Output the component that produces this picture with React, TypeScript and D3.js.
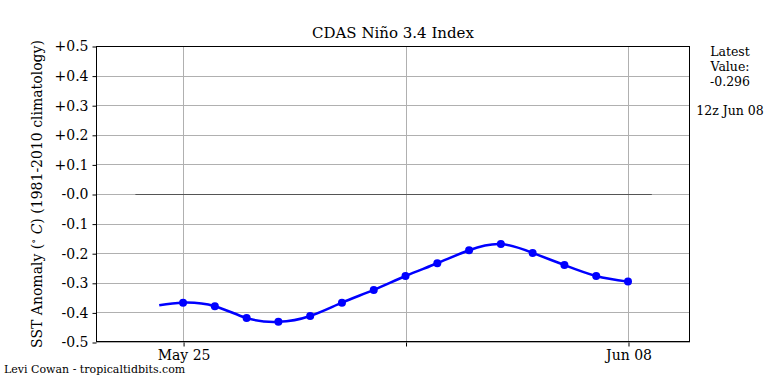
import * as d3 from 'd3';
import { useEffect, useRef } from 'react';

// daily values, 12z, May 25 .. Jun 08
const days = ['2024-05-25', '2024-05-26', '2024-05-27', '2024-05-28', '2024-05-29', '2024-05-30', '2024-05-31',
  '2024-06-01', '2024-06-02', '2024-06-03', '2024-06-04', '2024-06-05', '2024-06-06', '2024-06-07', '2024-06-08'];
const anomaly = [-0.367, -0.379, -0.419, -0.432, -0.412, -0.367, -0.324, -0.277, -0.234, -0.190, -0.169, -0.199, -0.240, -0.277, -0.296];
// curve starts a bit before the first marker
const leadIn = { date: '2024-05-24T06:00:00Z', value: -0.376 };
const yTicks = [0.5, 0.4, 0.3, 0.2, 0.1, 0, -0.1, -0.2, -0.3, -0.4, -0.5];
const xTicks = ['2024-05-25', '2024-06-01', '2024-06-08'];
const xTickLabels = ['May 25', '', 'Jun 08'];
const latest = '-0.296';
const latestTime = '12z Jun 08';

const FONT = 'DejaVu Serif';

const App = () => {
  const ref = useRef<SVGSVGElement>(null);

  useEffect(() => {
    const svg = d3.select(ref.current);
    svg.selectAll('*').remove();

    const width = 768;
    const height = 384;
    const margin = { top: 46, right: 78, bottom: 42, left: 96 };

    const parse = (s: string) => new Date(s.length === 10 ? s + 'T00:00:00Z' : s);

    const x = d3.scaleUtc()
      .domain([parse('2024-05-22T06:15:00Z'), parse('2024-06-09T22:50:00Z')])
      .range([margin.left, width - margin.right]);
    const y = d3.scaleLinear().domain([-0.5, 0.5]).range([height - margin.bottom, margin.top]);

    svg.attr('width', width).attr('height', height).style('font-family', FONT);
    svg.append('rect').attr('width', width).attr('height', height).attr('fill', 'white');

    // grid
    const grid = svg.append('g').attr('stroke', '#b0b0b0').attr('stroke-width', 1);
    yTicks.forEach(t => {
      grid.append('line')
        .attr('x1', margin.left).attr('x2', width - margin.right)
        .attr('y1', Math.round(y(t)) + 0.5).attr('y2', Math.round(y(t)) + 0.5);
    });
    xTicks.forEach(t => {
      const px = Math.round(x(parse(t))) + 0.5;
      grid.append('line')
        .attr('x1', px).attr('x2', px)
        .attr('y1', margin.top).attr('y2', height - margin.bottom);
    });

    // zero line
    svg.append('line')
      .attr('x1', x(parse('2024-05-23T12:00:00Z'))).attr('x2', x(parse('2024-06-08T18:00:00Z')))
      .attr('y1', Math.round(y(0)) + 0.5).attr('y2', Math.round(y(0)) + 0.5)
      .attr('stroke', '#555').attr('stroke-width', 1);

    // data line
    const pts = [{ date: parse(leadIn.date), value: leadIn.value }]
      .concat(days.map((d, i) => ({ date: parse(d), value: anomaly[i] })));
    const line = d3.line<{ date: Date; value: number }>()
      .x(d => x(d.date)).y(d => y(d.value))
      .curve(d3.curveNatural);
    svg.append('path')
      .datum(pts)
      .attr('d', line)
      .attr('fill', 'none')
      .attr('stroke', '#0000ff')
      .attr('stroke-width', 2.5);

    svg.append('g')
      .selectAll('circle')
      .data(days)
      .enter()
      .append('circle')
      .attr('cx', d => x(parse(d)))
      .attr('cy', (d, i) => y(anomaly[i]))
      .attr('r', 4)
      .attr('fill', '#0000ff');

    // frame
    svg.append('rect')
      .attr('x', margin.left + 0.5).attr('y', margin.top + 0.5)
      .attr('width', width - margin.right - margin.left - 1)
      .attr('height', height - margin.bottom - margin.top - 1)
      .attr('fill', 'none').attr('stroke', 'black').attr('stroke-width', 1);

    const fmt = (v: number) => (v > 0.0001 ? '+' : '-') + Math.abs(v).toFixed(1);

    // y axis
    const yAxis = svg.append('g')
      .attr('transform', `translate(${margin.left + 0.5},0.5)`)
      .call(d3.axisLeft(y).tickValues(yTicks).tickSize(4).tickPadding(4)
        .tickFormat(d => fmt(+d)));
    yAxis.select('.domain').remove();
    yAxis.selectAll('text').style('font-size', '14px').style('font-family', FONT).attr('fill', 'black');

    // x axis
    const xAxis = svg.append('g')
      .attr('transform', `translate(0.5,${height - margin.bottom + 0.5})`)
      .call(d3.axisBottom(x).tickValues(xTicks.map(parse)).tickSize(4).tickPadding(4)
        .tickFormat((d, i) => xTickLabels[i]));
    xAxis.select('.domain').remove();
    xAxis.selectAll('text').style('font-size', '14px').style('font-family', FONT).attr('fill', 'black');

    // title
    svg.append('text')
      .attr('x', (margin.left + width - margin.right) / 2)
      .attr('y', 38)
      .attr('text-anchor', 'middle')
      .style('font-size', '15px')
      .text('CDAS Niño 3.4 Index');

    // y label
    const yl = svg.append('text')
      .attr('transform', `translate(42,${(margin.top + height - margin.bottom) / 2}) rotate(-90)`)
      .attr('text-anchor', 'middle')
      .style('font-size', '14px');
    yl.append('tspan').text('SST Anomaly (');
    yl.append('tspan').attr('dy', -5).style('font-size', '10px').text('∘');
    yl.append('tspan').attr('dy', 5).text(' ');
    yl.append('tspan').style('font-style', 'italic').text('C');
    yl.append('tspan').text(') (1981-2010 climatology)');

    // latest value
    const side = svg.append('g').style('font-size', '12.5px').attr('text-anchor', 'middle');
    side.append('text').attr('x', 730).attr('y', 56).text('Latest');
    side.append('text').attr('x', 730).attr('y', 71).text('Value:');
    side.append('text').attr('x', 730).attr('y', 86).text(latest);
    side.append('text').attr('x', 730).attr('y', 115).text(latestTime);

    svg.append('text')
      .attr('x', 4).attr('y', 373)
      .style('font-size', '11px')
      .text('Levi Cowan - tropicaltidbits.com');
  }, []);

  return <svg ref={ref} width={768} height={384} style={{ position: 'absolute', left: 0, top: 0 }} />;
};

export default App;
